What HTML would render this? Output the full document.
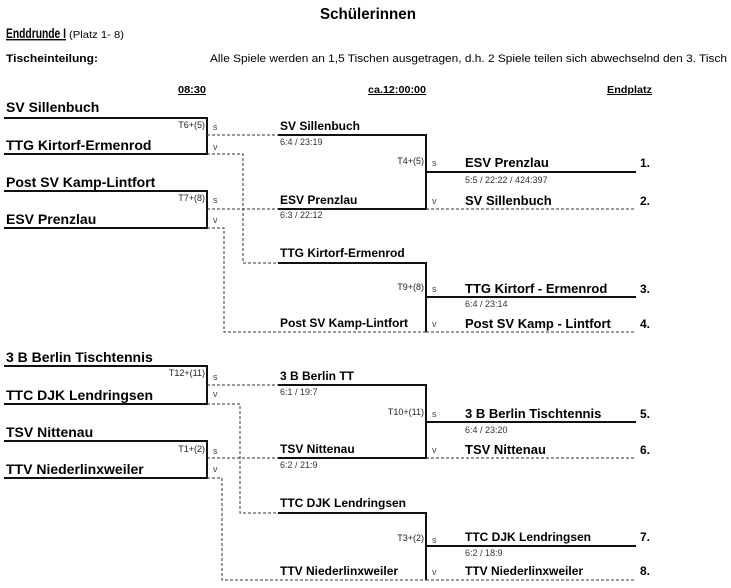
<!DOCTYPE html>
<html><head><meta charset="utf-8"><style>
html,body{margin:0;padding:0;background:#fff;}
svg{display:block;font-family:"Liberation Sans",sans-serif;}
.n1{font-size:14px;font-weight:bold;}
.n2{font-size:12px;font-weight:bold;}
.n3{font-size:13px;font-weight:bold;}
.sc{font-size:9px;fill:#333;}
.t{font-size:9px;fill:#222;}
.sv{font-size:9px;fill:#444;}
.s{stroke:#111;stroke-width:2;fill:none;}
.d{stroke:#333;stroke-width:1;stroke-dasharray:3,2;fill:none;}
</style></head><body>
<svg width="731" height="588" viewBox="0 0 731 588">
<text x="368" y="19" text-anchor="middle" font-size="16" font-weight="bold" textLength="96" lengthAdjust="spacingAndGlyphs">Schülerinnen</text>
<text x="6" y="38" font-size="14" font-weight="bold" text-decoration="underline" textLength="60" lengthAdjust="spacingAndGlyphs">Enddrunde I</text>
<text x="69" y="38" font-size="10" textLength="55" lengthAdjust="spacingAndGlyphs">(Platz 1- 8)</text>
<text x="6" y="62" font-size="11" font-weight="bold" textLength="92" lengthAdjust="spacingAndGlyphs">Tischeinteilung:</text>
<text x="210" y="62" font-size="11" textLength="517" lengthAdjust="spacingAndGlyphs">Alle Spiele werden an 1,5 Tischen ausgetragen, d.h. 2 Spiele teilen sich abwechselnd den 3. Tisch</text>
<text x="178" y="93" font-size="10" font-weight="bold" text-decoration="underline" textLength="28" lengthAdjust="spacingAndGlyphs">08:30</text>
<text x="368" y="93" font-size="10" font-weight="bold" text-decoration="underline" textLength="58" lengthAdjust="spacingAndGlyphs">ca.12:00:00</text>
<text x="607" y="93" font-size="10" font-weight="bold" text-decoration="underline" textLength="45" lengthAdjust="spacingAndGlyphs">Endplatz</text>

<text x="6" y="112" class="n1">SV Sillenbuch</text>
<text x="6" y="150" class="n1">TTG Kirtorf-Ermenrod</text>
<path class="s" d="M4 118H207V154H4"/>
<text x="205" y="128" class="t" text-anchor="end">T6+(5)</text>
<text x="213" y="130" class="sv">s</text><text x="213" y="150" class="sv">v</text>

<text x="6" y="187" class="n1">Post SV Kamp-Lintfort</text>
<text x="6" y="224" class="n1">ESV Prenzlau</text>
<path class="s" d="M4 191H207V228H4"/>
<text x="205" y="201" class="t" text-anchor="end">T7+(8)</text>
<text x="213" y="203" class="sv">s</text><text x="213" y="223" class="sv">v</text>

<path class="d" d="M207 135H278"/>
<path class="d" d="M207 154H243V263H278"/>
<path class="d" d="M207 209H278"/>
<path class="d" d="M207 228H224V332H426"/>

<text x="280" y="130" class="n2">SV Sillenbuch</text>
<text x="280" y="145" class="sc">6:4 / 23:19</text>
<text x="280" y="204" class="n2">ESV Prenzlau</text>
<text x="280" y="218" class="sc">6:3 / 22:12</text>
<path class="s" d="M278 135H426V209H278"/>
<text x="424" y="164" class="t" text-anchor="end">T4+(5)</text>
<text x="432" y="166" class="sv">s</text><text x="432" y="204" class="sv">v</text>

<text x="280" y="257" class="n2">TTG Kirtorf-Ermenrod</text>
<text x="280" y="327" class="n2">Post SV Kamp-Lintfort</text>
<path class="s" d="M278 263H426V332"/>
<text x="424" y="290" class="t" text-anchor="end">T9+(8)</text>
<text x="432" y="292" class="sv">s</text><text x="432" y="327" class="sv">v</text>

<text x="465" y="167" class="n3">ESV Prenzlau</text>
<path class="s" d="M426 172H636"/>
<text x="465" y="183" class="sc">5:5 / 22:22 / 424:397</text>
<text x="640" y="167" class="n2">1.</text>
<text x="465" y="205" class="n3">SV Sillenbuch</text>
<path class="d" d="M426 209H636"/>
<text x="640" y="205" class="n2">2.</text>

<text x="465" y="293" class="n3">TTG Kirtorf - Ermenrod</text>
<path class="s" d="M426 297H636"/>
<text x="465" y="307" class="sc">6:4 / 23:14</text>
<text x="640" y="293" class="n2">3.</text>
<text x="465" y="328" class="n3">Post SV Kamp - Lintfort</text>
<path class="d" d="M426 332H636"/>
<text x="640" y="328" class="n2">4.</text>

<text x="6" y="362" class="n1">3 B Berlin Tischtennis</text>
<text x="6" y="400" class="n1">TTC DJK Lendringsen</text>
<path class="s" d="M4 366H207V404H4"/>
<text x="205" y="376" class="t" text-anchor="end">T12+(11)</text>
<text x="213" y="380" class="sv">s</text><text x="213" y="397" class="sv">v</text>

<text x="6" y="437" class="n1">TSV Nittenau</text>
<text x="6" y="474" class="n1">TTV Niederlinxweiler</text>
<path class="s" d="M4 441H207V478H4"/>
<text x="205" y="452" class="t" text-anchor="end">T1+(2)</text>
<text x="213" y="454" class="sv">s</text><text x="213" y="472" class="sv">v</text>

<path class="d" d="M207 385H278"/>
<path class="d" d="M207 404H240V513H278"/>
<path class="d" d="M207 458H278"/>
<path class="d" d="M207 478H222V580H426"/>

<text x="280" y="380" class="n2">3 B Berlin TT</text>
<text x="280" y="395" class="sc">6:1 / 19:7</text>
<text x="280" y="453" class="n2">TSV Nittenau</text>
<text x="280" y="468" class="sc">6:2 / 21:9</text>
<path class="s" d="M278 385H426V458H278"/>
<text x="424" y="415" class="t" text-anchor="end">T10+(11)</text>
<text x="432" y="417" class="sv">s</text><text x="432" y="453" class="sv">v</text>

<text x="280" y="507" class="n2">TTC DJK Lendringsen</text>
<text x="280" y="575" class="n2">TTV Niederlinxweiler</text>
<path class="s" d="M278 513H426V580"/>
<text x="424" y="541" class="t" text-anchor="end">T3+(2)</text>
<text x="432" y="543" class="sv">s</text><text x="432" y="575" class="sv">v</text>

<text x="465" y="418" class="n3">3 B Berlin Tischtennis</text>
<path class="s" d="M426 422H636"/>
<text x="465" y="433" class="sc">6:4 / 23:20</text>
<text x="640" y="418" class="n2">5.</text>
<text x="465" y="454" class="n3">TSV Nittenau</text>
<path class="d" d="M426 458H636"/>
<text x="640" y="454" class="n2">6.</text>

<text x="465" y="541" class="n2">TTC DJK Lendringsen</text>
<path class="s" d="M426 546H636"/>
<text x="465" y="556" class="sc">6:2 / 18:9</text>
<text x="640" y="541" class="n2">7.</text>
<text x="465" y="575" class="n2">TTV Niederlinxweiler</text>
<path class="d" d="M426 580H636"/>
<text x="640" y="575" class="n2">8.</text>
</svg>
</body></html>
